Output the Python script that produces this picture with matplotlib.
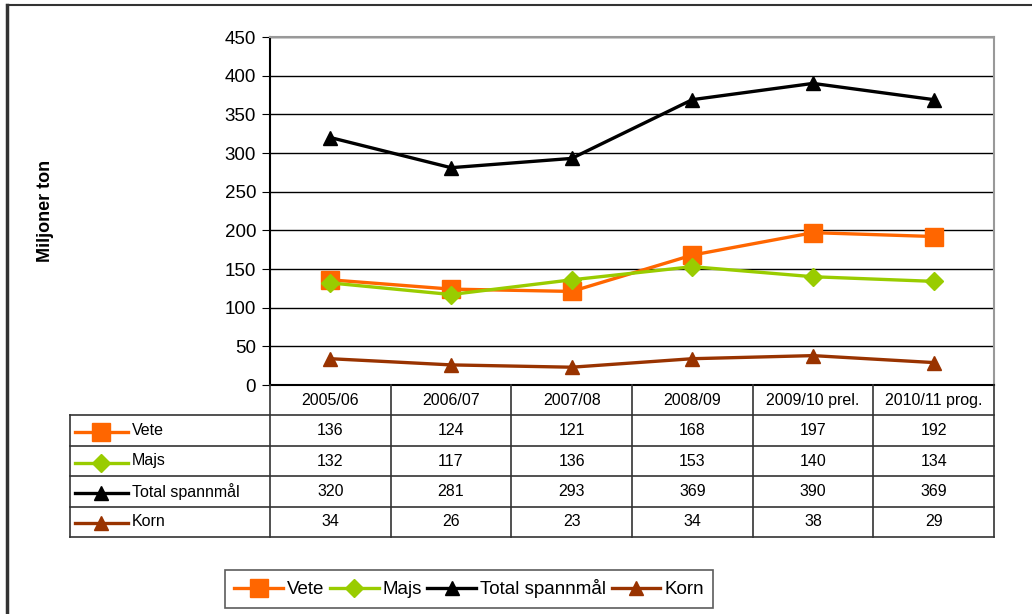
import matplotlib
matplotlib.use("Agg")
import matplotlib.pyplot as plt
from matplotlib.lines import Line2D

plt.rcParams["font.family"] = ["Liberation Sans", "DejaVu Sans"]

# ── Data ────────────────────────────────────────────────────────────────────
years = ["2005/06", "2006/07", "2007/08", "2008/09", "2009/10 prel.", "2010/11 prog."]
vete = [136, 124, 121, 168, 197, 192]
majs = [132, 117, 136, 153, 140, 134]
total = [320, 281, 293, 369, 390, 369]
korn = [34, 26, 23, 34, 38, 29]

series = [
    ("Vete", vete, "#FF6600", "s", 13),
    ("Majs", majs, "#99CC00", "D", 9),
    ("Total spannmål", total, "#000000", "^", 10),
    ("Korn", korn, "#993300", "^", 10),
]

W, H = 1032, 614
fig = plt.figure(figsize=(W / 100, H / 100), dpi=100)

def px(x0, y0, x1, y1):
    return [x0 / W, 1 - y1 / H, (x1 - x0) / W, (y1 - y0) / H]

# outer frame (only top/left visible in the reference)
fig.add_artist(Line2D([7 / W, 7 / W], [0, 1 - 5 / H], color="#333333", lw=2.5))
fig.add_artist(Line2D([7 / W, 1], [1 - 5 / H, 1 - 5 / H], color="#333333", lw=1.5))

# ── Line chart ──────────────────────────────────────────────────────────────
ax = fig.add_axes(px(270, 37, 994, 385))
x = list(range(len(years)))
for name, vals, col, mk, ms in series:
    ax.plot(x, vals, color=col, lw=2.4, marker=mk, markersize=ms,
            markeredgecolor=col, markerfacecolor=col, zorder=3)

ax.set_xlim(-0.5, len(years) - 0.5)
ax.set_ylim(0, 450)
ax.set_yticks(range(0, 451, 50))
ax.yaxis.grid(True, color="black", lw=1)
ax.set_axisbelow(True)
ax.set_xticks([])
ax.tick_params(axis="y", labelsize=13.5, length=6, direction="out", pad=4)
for s in ["top", "right"]:
    ax.spines[s].set_color("#999999")
    ax.spines[s].set_linewidth(1.5)
ax.spines["left"].set_linewidth(1.5)
ax.spines["bottom"].set_linewidth(1.5)

fig.text(45 / W, 1 - 211 / H, "Miljoner ton", rotation=90, ha="center",
         va="center", fontsize=13, fontweight="bold")

# ── Data table ──────────────────────────────────────────────────────────────
unit = 724 / 6
left_x = -0.5 - 200 / unit
tax = fig.add_axes(px(70, 385, 994, 537))
tax.set_xlim(left_x, len(years) - 0.5)
tax.set_ylim(5, 0)
tax.axis("off")

lc = "#333333"
for xi in [i - 0.5 for i in range(len(years) + 1)]:
    tax.plot([xi, xi], [0, 5], color=lc, lw=1.2, clip_on=False)
tax.plot([left_x, left_x], [1, 5], color=lc, lw=1.2, clip_on=False)
for yi in range(1, 6):
    tax.plot([left_x, len(years) - 0.5], [yi, yi], color=lc, lw=1.2, clip_on=False)

for i, yr in enumerate(years):
    tax.text(i, 0.5, yr, ha="center", va="center", fontsize=11.5)

for r, (name, vals, col, mk, ms) in enumerate(series, start=1):
    for i, v in enumerate(vals):
        tax.text(i, r + 0.5, str(v), ha="center", va="center", fontsize=11.5)
    lx0 = left_x + 5 / unit
    lx1 = left_x + 58 / unit
    tax.plot([lx0, lx1], [r + 0.55, r + 0.55], color=col, lw=2.4, clip_on=False)
    tax.plot([(lx0 + lx1) / 2], [r + 0.55], marker=mk, color=col,
             markersize=ms, clip_on=False)
    tax.text(left_x + 62 / unit, r + 0.5, name, ha="left", va="center",
             fontsize=11.5)

# ── Legend ──────────────────────────────────────────────────────────────────
handles = [Line2D([], [], color=col, lw=2.4, marker=mk, markersize=ms)
           for name, vals, col, mk, ms in series]
leg = fig.legend(handles, [s[0] for s in series], loc="center",
                 bbox_to_anchor=((221 + 717) / 2 / W, 1 - 589 / H),
                 ncol=4, frameon=True, fancybox=False, fontsize=13.5,
                 handlelength=2.6, handletextpad=0.2, columnspacing=0.3,
                 borderpad=0.5, borderaxespad=0)
leg.get_frame().set_edgecolor("#333333")
leg.get_frame().set_linewidth(1.2)

plt.savefig("out.png", dpi=100, facecolor="white")
